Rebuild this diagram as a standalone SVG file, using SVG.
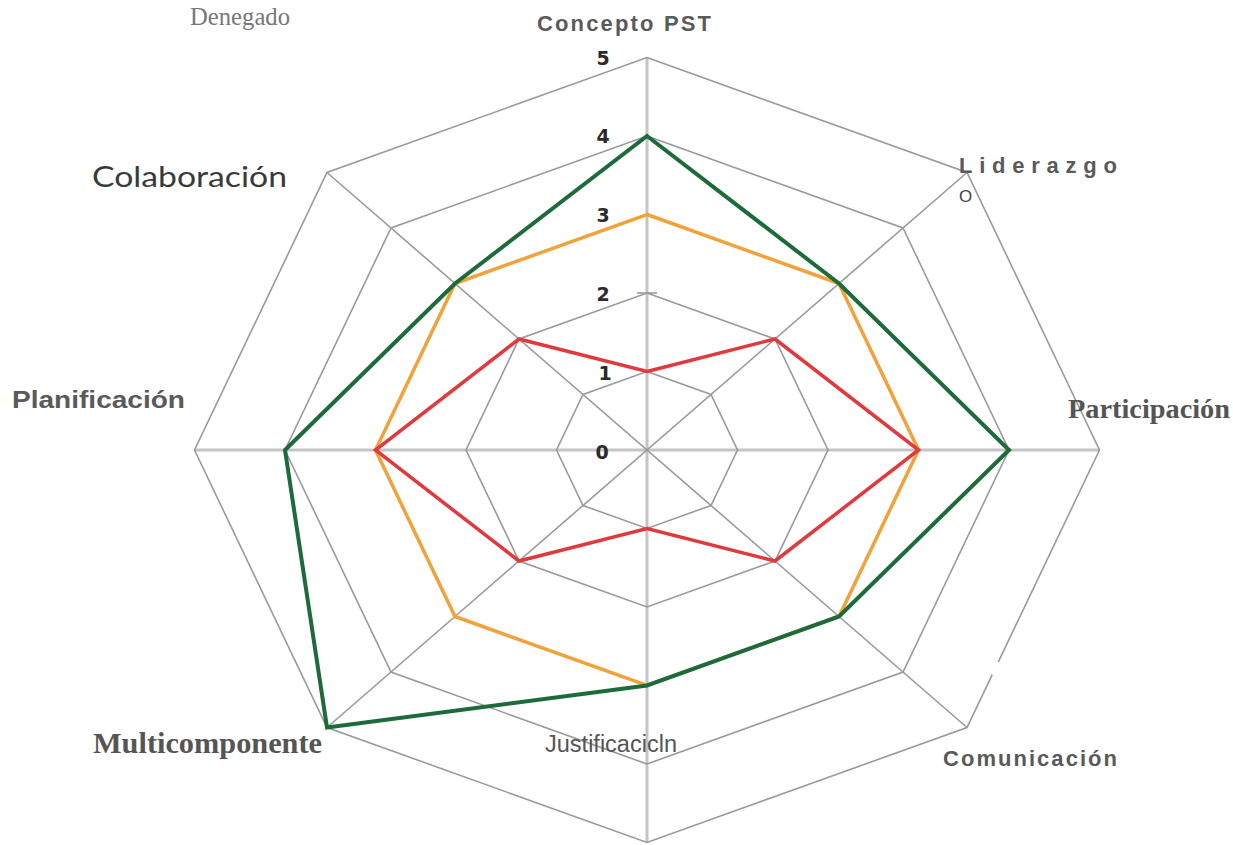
<svg xmlns="http://www.w3.org/2000/svg" width="1233" height="845" viewBox="0 0 1233 845">
<style>
.oct{fill:none;stroke:#9a9a9a;stroke-width:1.6;stroke-linejoin:miter}
.axm{stroke:#c4c4c4;stroke-width:3}
.axd{stroke:#9a9a9a;stroke-width:1.6}
.ser{fill:none;stroke-linejoin:miter}
.num{font-family:"DejaVu Sans",sans-serif;font-weight:bold;font-size:19px;fill:#2a2a2a;text-anchor:middle}
.lbs{font-family:"Liberation Sans",Arial,sans-serif;font-weight:bold;fill:#5a5a5a}
.lbr{font-family:"Liberation Serif","Times New Roman",serif;font-weight:bold;fill:#555}
</style>
<rect width="1233" height="845" fill="#fff"/>
<g id="grid">
<line class="axm" x1="647" y1="57.5" x2="647" y2="842.5"/>
<line class="axm" x1="194.5" y1="450" x2="1099.5" y2="450"/>
<line class="axd" x1="327" y1="172.5" x2="967" y2="727.5"/>
<line class="axd" x1="967" y1="172.5" x2="327" y2="727.5"/>
<polygon class="oct" points="647,371.5 711,394.5 737.5,450 711,505.5 647,528.5 583,505.5 556.5,450 583,394.5"/>
<polygon class="oct" points="647,293 775,339 828,450 775,561 647,607 519,561 466,450 519,339"/>
<polygon class="oct" points="647,214.5 839,283.5 918.5,450 839,616.5 647,685.5 455,616.5 375.5,450 455,283.5"/>
<polygon class="oct" points="647,136 903,228 1009,450 903,672 647,764 391,672 285,450 391,228"/>
<polygon class="oct" points="647,57.5 967,172.5 1099.5,450 967,727.5 647,842.5 327,727.5 194.5,450 327,172.5"/>
<line class="axd" x1="637" y1="293" x2="657" y2="293"/>
<rect x="992" y="662" width="40" height="13" fill="#fff"/>
</g>
<g id="series">
<polygon id="orange" class="ser" stroke="#f2a23a" stroke-width="3.5" points="647,214.5 839,283.5 918.5,450 839,616.5 647,685.5 455,616.5 375.5,450 455,283.5"/>
<polygon id="green" class="ser" stroke="#1d6b3b" stroke-width="4" points="647,136 839,283.5 1009,450 839,616.5 647,685.5 327,727.5 285,450 455,283.5"/>
<polygon id="red" class="ser" stroke="#e0393e" stroke-width="3.5" points="647,371.5 775,339 918.5,450 775,561 647,528.5 519,561 375.5,450 519,339"/>
</g>
<g id="scale">
<text class="num" x="603" y="65">5</text>
<text class="num" x="603" y="143">4</text>
<text class="num" x="603" y="222">3</text>
<text class="num" x="603" y="301">2</text>
<text class="num" x="605" y="380">1</text>
<text class="num" x="602" y="459">0</text>
</g>
<g id="labels">
<text x="190" y="25" font-family="Liberation Serif,serif" font-size="26" fill="#777" textLength="100" lengthAdjust="spacingAndGlyphs">Denegado</text>
<text class="lbs" x="537" y="31" font-size="22" textLength="174" lengthAdjust="spacing">Concepto PST</text>
<text x="92" y="187" font-family="Lato,sans-serif" font-size="28" fill="#3a3a3a" textLength="195" lengthAdjust="spacingAndGlyphs">Colaboración</text>
<text class="lbs" x="959" y="173" font-size="22" textLength="158" lengthAdjust="spacing">Liderazgo</text>
<text x="959" y="202" font-family="Liberation Sans,sans-serif" font-size="17" fill="#444">O</text>
<text class="lbs" x="12" y="408" font-size="24" textLength="173" lengthAdjust="spacingAndGlyphs">Planificación</text>
<text class="lbr" x="1068" y="418" font-size="27" textLength="162" lengthAdjust="spacingAndGlyphs">Participación</text>
<text class="lbr" x="93" y="753" font-size="30" textLength="229" lengthAdjust="spacingAndGlyphs">Multicomponente</text>
<text x="545" y="752" font-family="Liberation Sans,sans-serif" font-size="23" fill="#555" textLength="132" lengthAdjust="spacingAndGlyphs">Justificacicln</text>
<text class="lbs" x="943" y="766" font-size="22" fill="#666" textLength="174" lengthAdjust="spacing">Comunicación</text>
</g>
</svg>
